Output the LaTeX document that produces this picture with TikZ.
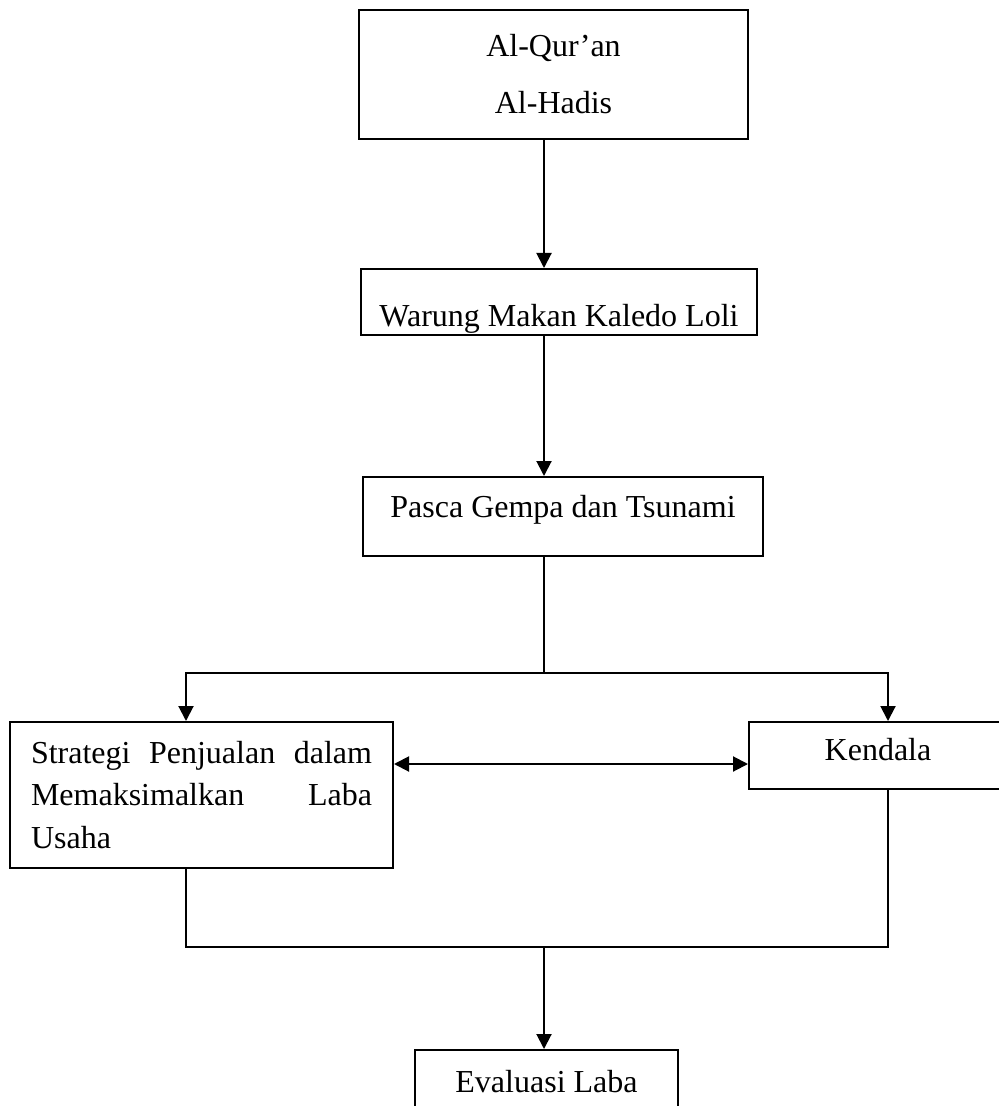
\documentclass[tikz,border=0pt]{standalone}
\usepackage{fontspec}
\setmainfont{Liberation Serif}
\usetikzlibrary{positioning,arrows.meta}

\begin{document}
\begin{tikzpicture}[
    x=1pt, y=-1pt,
    >={Triangle[length=7.5pt,width=7.5pt]},
    every node/.style={font=\fontsize{16}{21.25}\selectfont, align=center},
    block/.style={draw, line width=1pt, inner sep=2pt},
    justified/.style={align=justify, font={\fontsize{16}{21.25}\selectfont\hyphenpenalty=10000 \tolerance=10000 }},
    link/.style={line width=1pt}
]
\useasboundingbox (0,0) rectangle (499,553);

\node[block, minimum width=194.5pt, minimum height=64.5pt] (quran) at (276.75,37.25) {Al-Qur’an\\[7.25pt]Al-Hadis};
\node[block, below=64pt of quran, xshift=2.75pt, minimum width=198pt, minimum height=33pt, text height=26pt, text depth=1.9pt] (warung) {Warung Makan Kaledo Loli};
\node[block, below=70pt of warung, xshift=2pt, minimum width=200pt, minimum height=39.5pt, text height=8pt, text depth=7.4pt] (pasca) {Pasca Gempa dan Tsunami};
\node[block, justified, minimum width=191.5pt, minimum height=73pt, text width=170.5pt, inner xsep=10.5pt] (strategi) at (100.75,397.5)
    {Strategi Penjualan dalam Memaksimalkan Laba Usaha};
\node[block, minimum width=129pt, minimum height=33.5pt, text height=10pt, text depth=4.9pt] (kendala) at (439,377.75) {Kendala};
\node[block, minimum width=131.5pt, minimum height=32pt] (evaluasi) at (273.25,541) {Evaluasi Laba};

% titik bantu untuk garis
\coordinate (spine) at (272,0);
\coordinate (split) at (272,336.5);
\coordinate (leftdrop) at (93,336.5);
\coordinate (rightdrop) at (444,336.5);
\coordinate (mid) at (0,382);
\coordinate (join) at (272,473.5);

\draw[->, link] (quran.south -| spine) -- (warung.north -| spine);
\draw[->, link] (warung.south -| spine) -- (pasca.north -| spine);
\draw[link] (pasca.south -| spine) -- (split);
\draw[->, link] (split) -- (leftdrop) -- (leftdrop |- strategi.north);
\draw[->, link] (split) -- (rightdrop) -- (rightdrop |- kendala.north);
\draw[<->, link] (strategi.east |- mid) -- (kendala.west |- mid);
\draw[link] (leftdrop |- strategi.south) -- (leftdrop |- join) -- (rightdrop |- join) -- (rightdrop |- kendala.south);
\draw[->, link] (join) -- (evaluasi.north -| join);
\end{tikzpicture}
\end{document}
